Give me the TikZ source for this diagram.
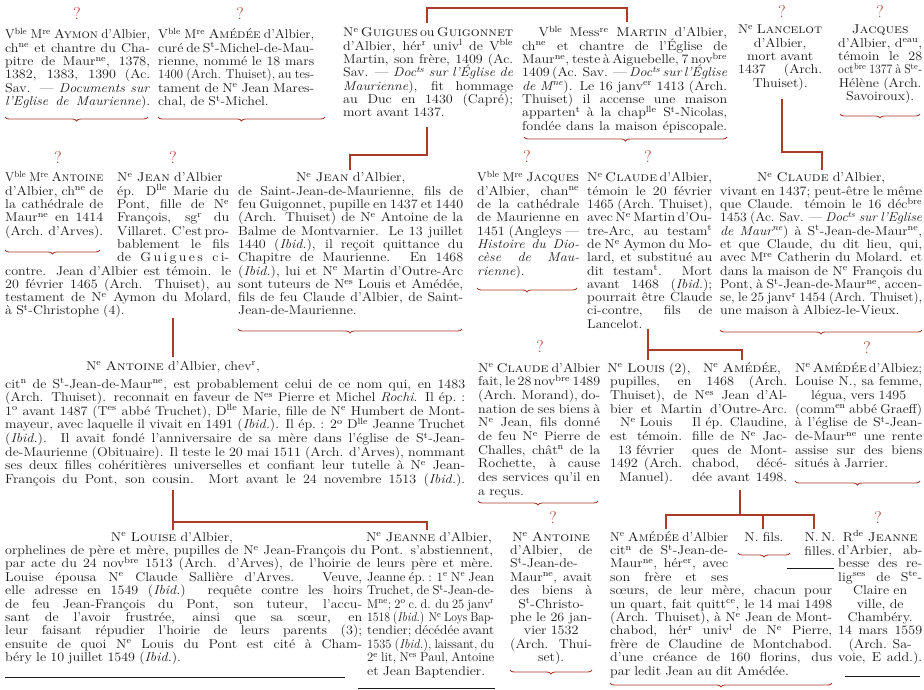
\documentclass[tikz,border=0pt]{standalone}
\usepackage{graphicx}
\usetikzlibrary{decorations.pathreplacing}
\definecolor{rust}{RGB}{172,58,42}
\definecolor{ink}{RGB}{25,25,25}
\newdimen\bw
\newbox\fitbox
\hfuzz=\maxdimen \hbadness=10000
\newcommand\blkfont{\fontsize{12.8}{13.3}\selectfont\spaceskip=.3em plus .8em minus .17em\relax}
\newcommand\spx[1]{\textsuperscript{#1}}
\newcommand\fitline[2]{\setbox\fitbox\hbox to\bw{#1}\ifnum\badness>10000 \setbox\fitbox\hbox{\spaceskip=.25em\relax #2}\edef\fitfac{0.\the\numexpr\bw*1000/\wd\fitbox\relax}\hbox to\bw{\scalebox{\fitfac}[1]{\box\fitbox}\hss}\else\box\fitbox\fi}
\newcommand\lnj[1]{\fitline{#1}{#1}}
\newcommand\lnlf[1]{\fitline{#1\hfil}{#1}}
\newcommand\lnc[1]{\fitline{\hfil#1\hfil}{#1}}
\newcommand\lnr[1]{\fitline{\hfil#1}{#1}}
\newcommand\blk[3][13.3]{\bw=\dimexpr #2pt*100/110\relax\scalebox{1.10}[1]{\vtop{\blkfont\baselineskip=#1pt\lineskiplimit=-20pt\lineskip=0pt #3}}}
\newcommand\hd[1]{\scalebox{1.10}[1]{\blkfont #1}}
\begin{document}
\begin{tikzpicture}[x=1pt,y=-1pt,
  txt/.style={inner sep=0pt, text=ink},
  qm/.style={inner sep=0pt, text=rust, font=\fontsize{17}{17}\selectfont},
  link/.style={draw=rust, line width=1.1pt},
  brc/.style={draw=rust, line width=0.9pt, decorate, decoration={brace, amplitude=4pt}},
  rulel/.style={draw=ink, line width=1pt}]
\useasboundingbox (0,0) rectangle (924,690);
\fill[white] (0,0) rectangle (924,690);

% ---------------- question marks
\node[qm] (q1) at (77,14) {?};
\node[qm] (q2) at (240,14) {?};
\node[qm] (q3) at (782,12) {?};
\node[qm] (q4) at (880,12) {?};
\node[qm] (q5) at (58,158) {?};
\node[qm] (q6) at (173,158) {?};
\node[qm] (q7) at (527,157) {?};
\node[qm] (q8) at (648,157) {?};
\node[qm] (q9) at (540,347) {?};
\node[qm] (q10) at (867,348) {?};
\node[qm] (q11) at (553,518) {?};
\node[qm] (q12) at (878,518) {?};

% ---------------- row 1
\node[txt, anchor=base west] (aymon) at (5,39) {\blk{145}{%
\lnj{V\spx{ble} M\spx{re} \textsc{Aymon} d'Albier,}
\lnj{ch\spx{ne} et chantre du Cha-}
\lnj{pitre de Maur\spx{ne}, 1378,}
\lnj{1382, 1383, 1390 (Ac.}
\lnj{Sav. --- \textit{Documents sur}}
\lnj{\textit{l'Eglise de Maurienne}).}}};

\node[txt, anchor=base west] (amedee1) at (158,39) {\blk{156}{%
\lnj{V\spx{ble} M\spx{re} \textsc{Amédée} d'Albier,}
\lnj{curé de S\spx{t}-Michel-de-Mau-}
\lnj{rienne, nommé le 18 mars}
\lnj{1400 (Arch. Thuiset), au tes-}
\lnj{tament de N\spx{e} Jean Mares-}
\lnlf{chal, de S\spx{t}-Michel.}}};

\node[txt, anchor=base west] (guigues) at (343,37) {\blk{170}{%
\lnj{N\spx{e} \textsc{Guigues} ou \textsc{Guigonnet}}
\lnj{d'Albier, hér\spx{r} univ\spx{l} de V\spx{ble}}
\lnj{Martin, son frère, 1409 (Ac.}
\lnj{Sav. --- \textit{Doc\spx{ts} sur l'Église de}}
\lnj{\textit{Maurienne}), fit hommage}
\lnj{au Duc en 1430 (Capré);}
\lnlf{mort avant 1437.}}};

\node[txt, anchor=base west] (martin) at (522,37) {\blk{205}{%
\lnj{\hskip15pt V\spx{ble} Mess\spx{re} \textsc{Martin} d'Albier,}
\lnj{ch\spx{ne} et chantre de l'Église de}
\lnj{Maur\spx{ne}, teste à Aiguebelle, 7 nov\spx{bre}}
\lnj{1409 (Ac. Sav. --- \textit{Doc\spx{ts} sur l'Église}}
\lnj{\textit{de M\spx{ne}}). Le 16 janv\spx{er} 1413 (Arch.}
\lnj{Thuiset) il accense une maison}
\lnj{apparten\spx{t} à la chap\spx{lle} S\spx{t}-Nicolas,}
\lnj{fondée dans la maison épiscopale.}}};

\node[txt, anchor=base west] (lancelot) at (738,34) {\blk{84}{%
\lnc{N\spx{e} \textsc{Lancelot}}
\lnc{d'Albier,}
\lnc{mort avant}
\lnj{1437 (Arch.}
\lnc{Thuiset).}}};

\node[txt, anchor=base west] (jacques1) at (838,34) {\blk{84}{%
\lnc{\textsc{Jacques}}
\lnj{d'Albier, d\spx{eau},}
\lnj{témoin le 28}
\lnj{oct\spx{bre} 1377 à S\spx{te}-}
\lnc{Hélène (Arch.}
\lnc{Savoiroux).}}};

% ---------------- row 2
\node[txt, anchor=base west] (antoine1) at (5,182) {\blk{98}{%
\lnj{V\spx{ble} M\spx{re} \textsc{Antoine}}
\lnj{d'Albier, ch\spx{ne} de}
\lnj{la cathédrale de}
\lnj{Maur\spx{ne} en 1414}
\lnj{(Arch. d'Arves).}}};

\node[txt, anchor=base west] (jeanep) at (117,182) {\blk{112}{%
\lnlf{N\spx{e} \textsc{Jean} d'Albier}
\lnj{ép. D\spx{lle} Marie du}
\lnj{Pont, fille de N\spx{e}}
\lnj{François, sg\spx{r} du}
\lnj{Villaret. C'est pro-}
\lnj{bablement le fils}
\lnj{de G\,u\,i\,g\,u\,e\,s c\,i-}}};

\node[txt, anchor=base west] (jeanepb) at (5,275) {\blk{226}{%
\lnj{contre. Jean d'Albier est témoin. le}
\lnj{20 février 1465 (Arch. Thuiset), au}
\lnj{testament de N\spx{e} Aymon du Molard,}
\lnlf{à S\spx{t}-Christophe (4).}}};

\node[txt, anchor=base west] (jeansj) at (238,182) {\blk{225}{%
\lnc{N\spx{e} \textsc{Jean} d'Albier,}
\lnj{de Saint-Jean-de-Maurienne, fils de}
\lnj{feu Guigonnet, pupille en 1437 et 1440}
\lnj{(Arch. Thuiset) de N\spx{e} Antoine de la}
\lnj{Balme de Montvarnier. Le 13 juillet}
\lnj{1440 (\textit{Ibid.}), il reçoit quittance du}
\lnj{Chapitre de Maurienne. En 1468}
\lnj{(\textit{Ibid.}), lui et N\spx{e} Martin d'Outre-Arc}
\lnj{sont tuteurs de N\spx{es} Louis et Amédée,}
\lnj{fils de feu Claude d'Albier, de Saint-}
\lnlf{Jean-de-Maurienne.}}};

\node[txt, anchor=base west] (jacques2) at (477,182) {\blk{102}{%
\lnj{V\spx{ble} M\spx{re} \textsc{Jacques}}
\lnj{d'Albier, chan\spx{ne}}
\lnj{de la cathédrale}
\lnj{de Maurienne en}
\lnj{1451 (Angleys ---}
\lnj{\textit{Histoire du Dio-}}
\lnj{\textit{cèse de Mau-}}
\lnlf{\textit{rienne}).}}};

\node[txt, anchor=base west] (claude1) at (587,182) {\blk{125}{%
\lnj{N\spx{e} \textsc{Claude} d'Albier,}
\lnj{témoin le 20 février}
\lnj{1465 (Arch. Thuiset),}
\lnj{avec N\spx{e} Martin d'Ou-}
\lnj{tre-Arc, au testam\spx{t}}
\lnj{de N\spx{e} Aymon du Mo-}
\lnj{lard, et substitué au}
\lnj{dit testam\spx{t}. Mort}
\lnj{avant 1468 (\textit{Ibid.});}
\lnj{pourrait être Claude}
\lnj{ci-contre, fils de}
\lnlf{Lancelot.}}};

\node[txt, anchor=base west] (claude2) at (720,182) {\blk{202}{%
\lnc{N\spx{e} \textsc{Claude} d'Albier,}
\lnj{vivant en 1437; peut-être le même}
\lnj{que Claude. témoin le 16 déc\spx{bre}}
\lnj{1453 (Ac. Sav. --- \textit{Doc\spx{ts} sur l'Eglise}}
\lnj{\textit{de Maur\spx{ne}}) à S\spx{t}-Jean-de-Maur\spx{ne},}
\lnj{et que Claude, du dit lieu, qui,}
\lnj{avec M\spx{re} Catherin du Molard. et}
\lnj{dans la maison de N\spx{e} François du}
\lnj{Pont, à S\spx{t}-Jean-de-Maur\spx{ne}, accen-}
\lnj{se, le 25 janv\spx{r} 1454 (Arch. Thuiset),}
\lnlf{une maison à Albiez-le-Vieux.}}};

% ---------------- row 3
\node[txt, anchor=base] (antoine2h) at (173,370) {\hd{N\spx{e} \textsc{Antoine} d'Albier, chev\spx{r},}};
\node[txt, anchor=base west] (antoine2) at (5,388) {\blk[13.6]{460}{%
\lnj{cit\spx{n} de S\spx{t}-Jean-de-Maur\spx{ne}, est probablement celui de ce nom qui, en 1483}
\lnj{(Arch. Thuiset). reconnait en faveur de N\spx{es} Pierre et Michel \textit{Rochi}. Il ép.~:}
\lnj{1\spx{o} avant 1487 (T\spx{es} abbé Truchet), D\spx{lle} Marie, fille de N\spx{e} Humbert de Mont-}
\lnj{mayeur, avec laquelle il vivait en 1491 (\textit{Ibid.}). Il ép.~: 2\spx{o} D\spx{lle} Jeanne Truchet}
\lnj{(\textit{Ibid.}). Il avait fondé l'anniversaire de sa mère dans l'église de S\spx{t}-Jean-}
\lnj{de-Maurienne (Obituaire). Il teste le 20 mai 1511 (Arch. d'Arves), nommant}
\lnj{ses deux filles cohéritières universelles et confiant leur tutelle à N\spx{e} Jean-}
\lnj{François du Pont, son cousin. Mort avant le 24 novembre 1513 (\textit{Ibid.}).}}};

\node[txt, anchor=base west] (claude3) at (478,372) {\blk[13.7]{122}{%
\lnj{N\spx{e} \textsc{Claude} d'Albier}
\lnj{fait, le 28 nov\spx{bre} 1489}
\lnj{(Arch. Morand), do-}
\lnj{nation de ses biens à}
\lnj{N\spx{e} Jean, fils donné}
\lnj{de feu N\spx{e} Pierre de}
\lnj{Challes, chât\spx{n} de la}
\lnj{Rochette, à cause}
\lnj{des services qu'il en}
\lnlf{a reçus.}}};

\node[txt, anchor=base] (louish) at (649,372) {\hd{N\spx{e} \textsc{Louis} (2),}};
\node[txt, anchor=base] (amedee2h) at (742,372) {\hd{N\spx{e} \textsc{Amédée},}};
\node[txt, anchor=base west] (pupilles) at (610,385.7) {\blk[13.7]{177}{%
\lnj{pupilles, en 1468 (Arch.}
\lnj{Thuiset), de N\spx{es} Jean d'Al-}
\lnj{bier et Martin d'Outre-Arc.}}};
\node[txt, anchor=base west] (louis) at (610,426.8) {\blk[13.7]{72}{%
\lnc{N\spx{e} Louis}
\lnj{est témoin.}
\lnc{13 février}
\lnj{1492 (Arch.}
\lnc{Manuel).}}};
\node[txt, anchor=base west] (amedee2) at (692,426.8) {\blk[13.7]{95}{%
\lnj{Il ép. Claudine,}
\lnj{fille de N\spx{e} Jac-}
\lnj{ques de Mont-}
\lnj{chabod, décé-}
\lnj{dée avant 1498.}}};

\node[txt, anchor=base west] (amedee3) at (795,372) {\blk[13.7]{127}{%
\lnj{N\spx{e} \textsc{Amédée} d'Albiez;}
\lnj{Louise N., sa femme,}
\lnc{légua, vers 1495}
\lnj{(comm\spx{en} abbé Graeff)}
\lnj{à l'église de S\spx{t}-Jean-}
\lnj{de-Maur\spx{ne} une rente}
\lnj{assise sur des biens}
\lnlf{situés à Jarrier.}}};

% ---------------- row 4
\node[txt, anchor=base] (louiseh) at (172,541) {\hd{N\spx{e} \textsc{Louise} d'Albier,}};
\node[txt, anchor=base] (jeanneh) at (429,541) {\hd{N\spx{e} \textsc{Jeanne} d'Albier,}};
\node[txt, anchor=base west] (orphelines) at (5,554.4) {\blk[13.4]{488}{%
\lnj{orphelines de père et mère, pupilles de N\spx{e} Jean-François du Pont. s'abstiennent,}
\lnj{par acte du 24 nov\spx{bre} 1513 (Arch. d'Arves), de l'hoirie de leurs père et mère.}}};
\node[txt, anchor=base west] (louise) at (5,581.2) {\blk[13.4]{357}{%
\lnj{Louise épousa N\spx{e} Claude Sallière d'Arves. Veuve,}
\lnj{elle adresse en 1549 (\textit{Ibid.}) requête contre les hoirs}
\lnj{de feu Jean-François du Pont, son tuteur, l'accu-}
\lnj{sant de l'avoir frustrée, ainsi que sa sœur, en}
\lnj{leur faisant répudier l'hoirie de leurs parents (3);}
\lnj{ensuite de quoi N\spx{e} Louis du Pont est cité à Cham-}
\lnlf{béry le 10 juillet 1549 (\textit{Ibid.}).}}};
\node[txt, anchor=base west] (jeanne) at (367,581.2) {\blk[13.4]{127}{%
\lnj{Jeanne ép.~: 1\spx{e} N\spx{e} Jean}
\lnj{Truchet, de S\spx{t}-Jean-de-}
\lnj{M\spx{ne}; 2\spx{o} c.~d. du 25 janv\spx{r}}
\lnj{1518 (\textit{Ibid.}) N\spx{e} Loys Bap-}
\lnj{tendier; décédée avant}
\lnj{1535 (\textit{Ibid.}), laissant, du}
\lnj{2\spx{e} lit, N\spx{es} Paul, Antoine}
\lnlf{et Jean Baptendier.}}};

\node[txt, anchor=base west] (antoine3) at (510,541) {\blk[13.4]{82}{%
\lnc{N\spx{e} \textsc{Antoine}}
\lnj{d'Albier, de}
\lnj{S\spx{t}-Jean-de-}
\lnj{Maur\spx{ne}, avait}
\lnj{des biens à}
\lnc{S\spx{t}-Christo-}
\lnj{phe le 26 jan-}
\lnc{vier 1532}
\lnj{(Arch. Thui-}
\lnc{set).}}};

\node[txt, anchor=base west] (amedee4) at (610,541) {\blk[13.4]{118}{%
\lnj{N\spx{e} \textsc{Amédée} d'Albier}
\lnj{cit\spx{n} de S\spx{t}-Jean-de-}
\lnj{Maur\spx{ne}, hér\spx{er}, avec}
\lnj{son frère et ses}}};
\node[txt, anchor=base west] (amedee4b) at (610,594.6) {\blk[13.4]{222}{%
\lnj{sœurs, de leur mère, chacun pour}
\lnj{un quart, fait quitt\spx{ce}, le 14 mai 1498}
\lnj{(Arch. Thuiset), à N\spx{e} Jean de Mont-}
\lnj{chabod, hér\spx{r} univ\spx{l} de N\spx{e} Pierre,}
\lnj{frère de Claudine de Montchabod.}
\lnj{d'une créance de 160 florins, dus}
\lnlf{par ledit Jean au dit Amédée.}}};

\node[txt, anchor=base] (nfils) at (764,541) {\hd{N. fils.}};
\node[txt, anchor=base west] (nnfilles) at (795,541) {\blk[14]{40}{%
\lnr{N.\,N.}
\lnr{filles.}}};

\node[txt, anchor=base west] (jeanne2) at (838,541) {\blk[13.4]{84}{%
\lnc{R\spx{de} \textsc{Jeanne}}
\lnj{d'Arbier, ab-}
\lnj{besse des re-}
\lnj{lig\spx{ses} de S\spx{te}-}
\lnc{Claire en}
\lnc{ville, de}
\lnc{Chambéry.}
\lnj{14 mars 1559}
\lnc{(Arch. Sa-}
\lnj{voie, E add.).}}};

% ---------------- braces
\coordinate (br1a) at (5,117);   \coordinate (br1b) at (148,117);
\coordinate (br2a) at (158,117); \coordinate (br2b) at (325,117);
\coordinate (br3a) at (524,137); \coordinate (br3b) at (727,137);
\coordinate (br4a) at (840,114); \coordinate (br4b) at (920,114);
\coordinate (br5a) at (5,250);   \coordinate (br5b) at (100,250);
\coordinate (br6a) at (238,329); \coordinate (br6b) at (462,329);
\coordinate (br7a) at (477,288); \coordinate (br7b) at (577,288);
\coordinate (br8a) at (720,330); \coordinate (br8b) at (922,330);
\coordinate (br9a) at (478,501); \coordinate (br9b) at (598,501);
\coordinate (br10a) at (795,481); \coordinate (br10b) at (920,481);
\coordinate (br11a) at (510,670); \coordinate (br11b) at (592,670);
\coordinate (br12a) at (610,683); \coordinate (br12b) at (832,683);
\coordinate (br13a) at (738,553); \coordinate (br13b) at (790,553);
\foreach \k in {1,...,13} {\draw[brc] (br\k b) -- (br\k a);}

% ---------------- rules
\coordinate (r1a) at (5,677);   \coordinate (r1b) at (345,677);
\coordinate (r2a) at (358,688); \coordinate (r2b) at (495,688);
\coordinate (r3a) at (787,568); \coordinate (r3b) at (834,568);
\coordinate (r4a) at (845,676); \coordinate (r4b) at (920,676);
\draw[rulel] (r1a) -- (r1b);
\draw[rulel] (r2a) -- (r2b);
\draw[rulel] (r3a) -- (r3b);
\draw[rulel] (r4a) -- (r4b);

% ---------------- connectors
\coordinate (t1) at (427,23); \coordinate (t2) at (427,8);
\coordinate (t3) at (627,8);  \coordinate (t4) at (627,22);
\draw[link] (t1) -- (t2) -- (t3) -- (t4);

\coordinate (g1) at (427,127); \coordinate (g2) at (427,155);
\coordinate (g3) at (350,155); \coordinate (g4) at (350,170);
\draw[link] (g1) -- (g2) -- (g3) -- (g4);

\coordinate (l1) at (782,99);  \coordinate (l2) at (782,152);
\coordinate (l3) at (822,152); \coordinate (l4) at (822,170);
\draw[link] (l1) -- (l2) -- (l3) -- (l4);

\coordinate (j1) at (173,318); \coordinate (j2) at (173,357);
\draw[link] (j1) -- (j2);

\coordinate (c1) at (648,329); \coordinate (c2) at (648,360);
\coordinate (c3) at (648,350); \coordinate (c4) at (742,350);
\coordinate (c5) at (742,360);
\draw[link] (c1) -- (c2);
\draw[link] (c3) -- (c4) -- (c5);

\coordinate (a1) at (173,490); \coordinate (a2) at (173,530);
\coordinate (a3) at (173,522); \coordinate (a4) at (427,522);
\coordinate (a5) at (427,530);
\draw[link] (a1) -- (a2);
\draw[link] (a3) -- (a4) -- (a5);

\coordinate (m1) at (740,490); \coordinate (m2) at (740,515);
\coordinate (m3) at (666,515); \coordinate (m4) at (814,515);
\coordinate (m5) at (666,529); \coordinate (m6) at (763,529);
\coordinate (m7) at (814,529); \coordinate (m8) at (763,515);
\draw[link] (m1) -- (m2);
\draw[link] (m5) -- (m3) -- (m4) -- (m7);
\draw[link] (m8) -- (m6);
\end{tikzpicture}
\end{document}
